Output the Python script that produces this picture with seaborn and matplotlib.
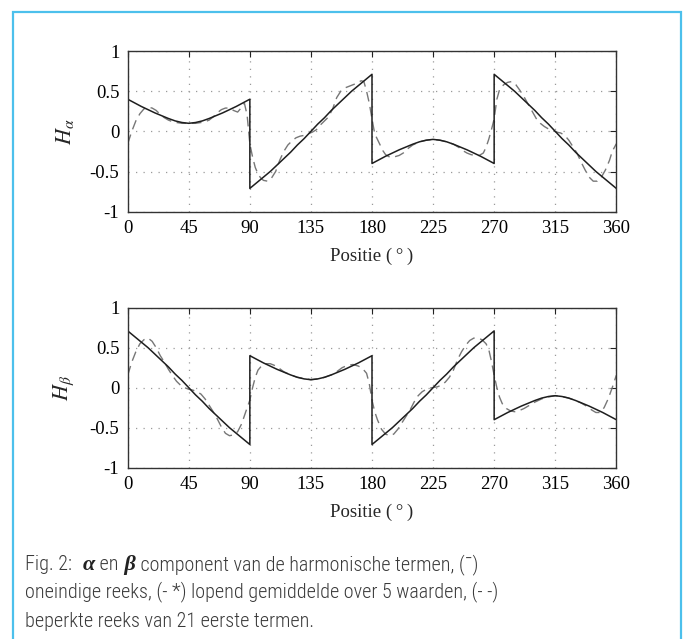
import numpy as np
import pandas as pd
import matplotlib
matplotlib.use("Agg")
import matplotlib.pyplot as plt
from matplotlib import font_manager as fm
from matplotlib.patches import Rectangle
import seaborn as sns

# ---------------- data ----------------
x_ticks = [0, 45, 90, 135, 180, 225, 270, 315, 360]
y_ticks = [-1, -0.5, 0, 0.5, 1]
y_ticklabels = ["-1", "-0.5", "0", "0.5", "1"]

pos_solid = [0, 5, 10, 15, 20, 25, 30, 35, 40, 45, 50, 55, 60, 65, 70, 75, 80, 85, 90,
             90, 95, 100, 105, 110, 115, 120, 125, 130, 135, 140, 145, 150, 155, 160, 165, 170, 175, 180,
             180, 185, 190, 195, 200, 205, 210, 215, 220, 225, 230, 235, 240, 245, 250, 255, 260, 265, 270,
             270, 275, 280, 285, 290, 295, 300, 305, 310, 315, 320, 325, 330, 335, 340, 345, 350, 355, 360]

h_alpha_solid = [0.40, 0.355, 0.31, 0.27, 0.23, 0.195, 0.16, 0.13, 0.11, 0.10, 0.11, 0.13, 0.16, 0.195, 0.23, 0.27, 0.31, 0.355, 0.40,
                 -0.71, -0.64, -0.57, -0.50, -0.42, -0.34, -0.26, -0.17, -0.09, 0.00, 0.09, 0.17, 0.26, 0.34, 0.42, 0.50, 0.57, 0.64, 0.71,
                 -0.40, -0.355, -0.31, -0.27, -0.23, -0.195, -0.16, -0.13, -0.11, -0.10, -0.11, -0.13, -0.16, -0.195, -0.23, -0.27, -0.31, -0.355, -0.40,
                 0.71, 0.64, 0.57, 0.50, 0.42, 0.34, 0.26, 0.17, 0.09, 0.00, -0.09, -0.17, -0.26, -0.34, -0.42, -0.50, -0.57, -0.64, -0.71]

h_beta_solid = [0.71, 0.64, 0.57, 0.50, 0.42, 0.34, 0.26, 0.17, 0.09, 0.00, -0.09, -0.17, -0.26, -0.34, -0.42, -0.50, -0.57, -0.64, -0.71,
                0.40, 0.355, 0.31, 0.27, 0.23, 0.195, 0.16, 0.13, 0.11, 0.10, 0.11, 0.13, 0.16, 0.195, 0.23, 0.27, 0.31, 0.355, 0.40,
                -0.71, -0.64, -0.57, -0.50, -0.42, -0.34, -0.26, -0.17, -0.09, 0.00, 0.09, 0.17, 0.26, 0.34, 0.42, 0.50, 0.57, 0.64, 0.71,
                -0.40, -0.355, -0.31, -0.27, -0.23, -0.195, -0.16, -0.13, -0.11, -0.10, -0.11, -0.13, -0.16, -0.195, -0.23, -0.27, -0.31, -0.355, -0.40]

pos_dash_alpha = [0, 3, 6, 9, 12, 15, 18, 21, 24, 27,
                  30, 33, 36, 40, 45, 50, 54, 57, 60, 63,
                  66, 69, 72, 75, 78, 81, 84, 86, 88, 90,
                  92, 94, 96, 98, 100, 103, 106, 109, 112, 115,
                  118, 121, 124, 127, 130, 133, 136, 139, 142, 145,
                  148, 151, 154, 157, 160, 163, 166, 169, 172, 174,
                  176, 178, 180, 182, 184, 186, 188, 190, 193, 196,
                  200, 203, 206, 210, 215, 220, 225, 230, 235, 240,
                  244, 247, 250, 253, 256, 259, 262, 264, 266, 268,
                  270, 272, 274, 277, 280, 283, 286, 289, 292, 295,
                  298, 301, 304, 307, 310, 313, 316, 319, 322, 325,
                  328, 331, 334, 337, 340, 343, 346, 349, 352, 355,
                  357, 360]
h_alpha_dash = [-0.155, 0.00, 0.13, 0.22, 0.28, 0.30, 0.29, 0.26, 0.21, 0.17,
                0.14, 0.12, 0.11, 0.10, 0.10, 0.10, 0.11, 0.12, 0.14, 0.18,
                0.23, 0.27, 0.29, 0.29, 0.26, 0.24, 0.30, 0.35, 0.20, -0.155,
                -0.32, -0.45, -0.53, -0.58, -0.61, -0.62, -0.58, -0.50, -0.36, -0.25,
                -0.17, -0.12, -0.08, -0.06, -0.05, -0.03, -0.01, 0.02, 0.08, 0.13,
                0.18, 0.28, 0.42, 0.50, 0.54, 0.56, 0.58, 0.60, 0.63, 0.62,
                0.50, 0.35, 0.155, -0.03, -0.10, -0.17, -0.24, -0.29, -0.32, -0.32,
                -0.30, -0.27, -0.22, -0.17, -0.13, -0.11, -0.10, -0.11, -0.13, -0.16,
                -0.20, -0.24, -0.27, -0.29, -0.30, -0.30, -0.27, -0.20, -0.10, 0.02,
                0.155, 0.40, 0.52, 0.58, 0.61, 0.62, 0.58, 0.51, 0.43, 0.34,
                0.25, 0.16, 0.10, 0.06, 0.03, 0.01, -0.01, -0.02, -0.05, -0.11,
                -0.19, -0.27, -0.38, -0.48, -0.57, -0.62, -0.62, -0.57, -0.48, -0.36,
                -0.25, -0.155]

pos_dash_beta = [0, 3, 6, 9, 12, 15, 18, 21, 24, 27,
                 30, 33, 36, 39, 42, 45, 48, 51, 54, 57,
                 60, 63, 66, 69, 72, 75, 78, 81, 84, 87,
                 90, 92, 94, 96, 99, 102, 105, 108, 111, 115,
                 120, 125, 130, 135, 140, 145, 150, 154, 158, 162,
                 166, 170, 173, 176, 178, 180, 182, 184, 187, 190,
                 193, 196, 199, 202, 205, 208, 211, 214, 217, 220,
                 224, 228, 231, 234, 237, 240, 243, 246, 249, 252,
                 255, 258, 261, 264, 266, 268, 270, 272, 274, 276,
                 279, 282, 285, 288, 292, 296, 300, 305, 310, 315,
                 320, 325, 330, 334, 338, 342, 345, 348, 351, 354,
                 357, 360]
h_beta_dash = [0.155, 0.32, 0.45, 0.55, 0.60, 0.62, 0.58, 0.50, 0.40, 0.32,
               0.23, 0.15, 0.08, 0.03, 0.00, -0.02, -0.03, -0.05, -0.08, -0.14,
               -0.22, -0.30, -0.39, -0.49, -0.57, -0.60, -0.59, -0.55, -0.45, -0.30,
               -0.155, 0.00, 0.13, 0.22, 0.28, 0.30, 0.30, 0.28, 0.25, 0.20,
               0.16, 0.13, 0.115, 0.10, 0.11, 0.13, 0.16, 0.20, 0.25, 0.28,
               0.29, 0.27, 0.24, 0.18, 0.05, -0.155, -0.30, -0.40, -0.52, -0.58,
               -0.60, -0.58, -0.52, -0.44, -0.36, -0.28, -0.18, -0.10, -0.05, -0.02,
               0.00, 0.01, 0.03, 0.07, 0.13, 0.22, 0.35, 0.45, 0.53, 0.59,
               0.62, 0.62, 0.60, 0.55, 0.48, 0.33, 0.155, 0.00, -0.12, -0.20,
               -0.26, -0.29, -0.30, -0.29, -0.26, -0.22, -0.18, -0.14, -0.115, -0.10,
               -0.11, -0.13, -0.16, -0.19, -0.23, -0.28, -0.31, -0.31, -0.25, -0.14,
               0.00, 0.155]

x_label = "Positie (\u2009\u00b0\u2009)"
y_labels = ["$H_\\alpha$", "$H_\\beta$"]
caption_lines = [
    ["Fig. 2:", "\u03b1", " en", "\u03b2", " component van de harmonische termen, (\u00af)"],
    ["oneindige reeks, (- *) lopend gemiddelde over 5 waarden, (- -)"],
    ["beperkte reeks van 21 eerste termen."],
]

# ---------------- style ----------------
sns.set_style("white")
plt.rcParams["font.family"] = ["Liberation Serif", "DejaVu Serif"]
plt.rcParams["mathtext.fontset"] = "stix"

# caption font: prefer a condensed sans
cap_kw = dict(family="DejaVu Sans")
try:
    p = fm.findfont(fm.FontProperties(family="DejaVu Sans", stretch="condensed"), fallback_to_default=False)
    if "ondensed" in p:
        cap_kw = dict(family="DejaVu Sans", stretch="condensed")
except Exception:
    pass
avail = {f.name for f in fm.fontManager.ttflist}
for cand in ["Liberation Sans Narrow", "Roboto Condensed", "Open Sans Condensed", "Noto Sans Condensed"]:
    if cand in avail:
        cap_kw = dict(family=cand, fontweight="light")
        break

W, H = 686, 639
fig = plt.figure(figsize=(W / 100, H / 100), dpi=100)
fig.patch.set_facecolor("white")

ax1 = fig.add_axes([127.7 / W, 1 - 211.7 / H, 488.6 / W, 160.7 / H])
ax2 = fig.add_axes([127.7 / W, 1 - 467.7 / H, 488.6 / W, 160.0 / H])

panels = [
    (ax1, h_alpha_solid, pos_dash_alpha, h_alpha_dash, y_labels[0]),
    (ax2, h_beta_solid, pos_dash_beta, h_beta_dash, y_labels[1]),
]

for ax, solid, pdash, dash, ylab in panels:
    ax.set_axisbelow(True)
    ax.grid(True, color="#9a9a9a", linewidth=0.9, linestyle=(0, (1, 5)))
    sns.lineplot(x=pdash, y=dash, ax=ax, estimator=None, sort=False,
                 color="#777777", linewidth=1.0, linestyle=(0, (7, 4)))
    sns.lineplot(x=pos_solid, y=solid, ax=ax, estimator=None, sort=False,
                 color="#1e1e1e", linewidth=1.1)
    ax.set_xlim(0, 360)
    ax.set_ylim(-1, 1)
    ax.set_xticks(x_ticks)
    ax.set_xticklabels([str(v) for v in x_ticks])
    ax.set_yticks(y_ticks)
    ax.set_yticklabels(y_ticklabels)
    ax.tick_params(direction="in", top=True, right=True, length=4, width=0.8,
                   labelsize=13.5, pad=6, colors="#222222", labelcolor="black")
    for s in ax.spines.values():
        s.set_color("#333333")
        s.set_linewidth(1.0)
    ax.set_xlabel(x_label, fontsize=13.5, labelpad=8)
    ax.set_ylabel(ylab, fontsize=16, labelpad=10)

# blue frame
fig.add_artist(Rectangle((13 / W, -0.05), (681 - 13) / W, 1 - 12 / H + 0.05,
                         transform=fig.transFigure, fill=False,
                         edgecolor="#4cc0ec", linewidth=1.6, clip_on=False))

# caption
renderer = fig.canvas.get_renderer()
cap_color = "#3a3a3a"

# choose the size so that line 2 spans about 472 px as in the reference
probe = fig.text(0, 0, caption_lines[1][0], fontsize=10, **cap_kw)
w10 = probe.get_window_extent(renderer=renderer).width
probe.remove()
cap_size = min(16.0, 10 * 472.0 / w10)

norm = dict(fontsize=cap_size, color=cap_color, **cap_kw)
greek = dict(family="Liberation Serif", fontsize=cap_size * 1.1, fontweight="bold",
             fontstyle="italic", color="#222222")

def caption_line(x, y, parts):
    for s, kw in parts:
        t = fig.text(x / W, y / H, s, transform=fig.transFigure,
                     ha="left", va="baseline", **kw)
        bb = t.get_window_extent(renderer=renderer)
        x = bb.x1

l1 = caption_lines[0]
caption_line(25, H - 570, [(l1[0], norm), ("  " + l1[1], greek), (l1[2], norm),
                           (" " + l1[3], greek), (l1[4], norm)])
caption_line(25, H - 597, [(caption_lines[1][0], norm)])
caption_line(25, H - 627, [(caption_lines[2][0], norm)])

fig.savefig("out.png", dpi=100)
